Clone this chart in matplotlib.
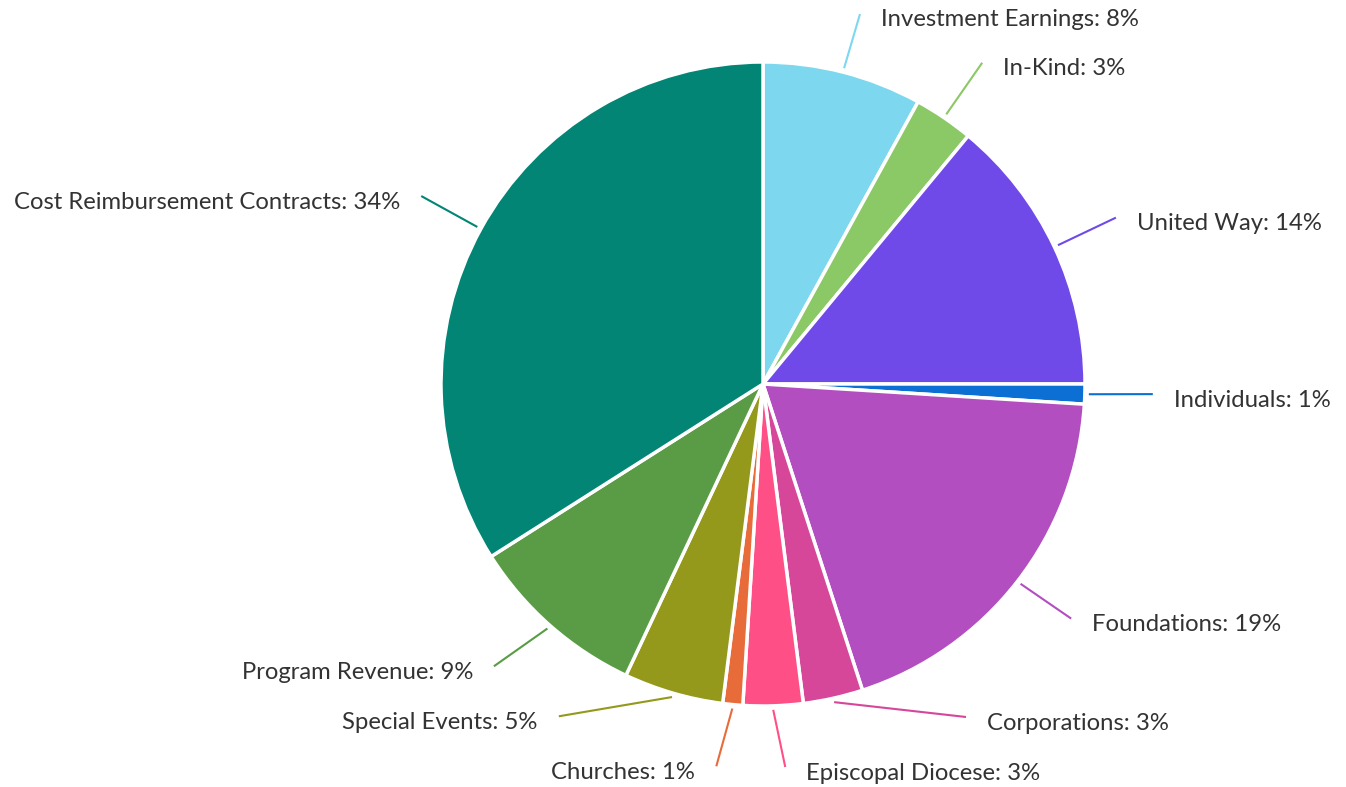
import numpy as np
import matplotlib.pyplot as plt

plt.rcParams['font.family'] = ['Lato', 'DejaVu Sans']

labels = ['Investment Earnings', 'In-Kind', 'United Way', 'Individuals', 'Foundations',
          'Corporations', 'Episcopal Diocese', 'Churches', 'Special Events',
          'Program Revenue', 'Cost Reimbursement Contracts']
values = [8, 3, 14, 1, 19, 3, 3, 1, 5, 9, 34]
colors = ['#7dd8ef', '#8bc866', '#7049e9', '#0b6fd4', '#b24ec0', '#d6479a',
          '#ff4f87', '#e86b3a', '#95991b', '#5a9c46', '#028575']

W, H = 1346, 787
cx, cy = 763, H - 384   # pie centre in data units (= pixels)
r = 322
R = 390                 # radius where label connectors end
step = 50               # min vertical gap between labels
ybot = H - 773          # lowest text line
ytop = H - 20           # highest text line

fig = plt.figure(figsize=(W / 100, H / 100), dpi=100)
ax = fig.add_axes([0, 0, 1, 1])

ax.pie(values, colors=colors, startangle=90, counterclock=False,
       center=(cx, cy), radius=r,
       wedgeprops=dict(edgecolor='white', linewidth=2.5))
ax.set_xlim(0, W)
ax.set_ylim(0, H)
ax.set_aspect('equal')
ax.axis('off')

# mid angles (clockwise from 12 o'clock)
tot = float(sum(values))
cum = np.cumsum(values) - np.array(values) / 2.0
mid = cum / tot * 2 * np.pi

items = []
for i, a in enumerate(mid):
    side = 1 if np.sin(a) >= 0 else -1
    # text centre sits a little below the natural spot on the upper half
    ty = cy + R * np.cos(a) - (4 + 4 * np.cos(a))
    items.append([i, side, ty, False])

# push labels apart, working up from the bottom on each side
for side in (1, -1):
    grp = sorted([it for it in items if it[1] == side], key=lambda t: t[2])
    prev = None
    for it in grp:
        if it[2] < ybot:
            it[2] = ybot
        if prev is not None and it[2] - prev < step:
            it[2] = prev + step
            it[3] = True
        if it[2] > ytop:
            it[2] = ytop
        prev = it[2]

for i, side, ty, moved in items:
    a = mid[i]
    ey = ty + 6
    if moved:
        dy = ey - cy
        ex = cx + side * np.sqrt(max(R ** 2 - dy ** 2, 0))
    else:
        ex = cx + R * np.sin(a)
        if ty < ybot + 5:
            ex += side * 10   # bottom labels spread out a bit
    x0 = cx + (r + 4) * np.sin(a)
    y0 = cy + (r + 4) * np.cos(a)
    ax.plot([x0, ex], [y0, ey], color=colors[i], lw=1.5, solid_capstyle='butt')
    ax.text(ex + side * 21, ty, '%s: %d%%' % (labels[i], values[i]),
            ha='left' if side > 0 else 'right', va='center',
            fontsize=17.2, color='#333333')

fig.savefig('out.png', dpi=100, facecolor='white')
